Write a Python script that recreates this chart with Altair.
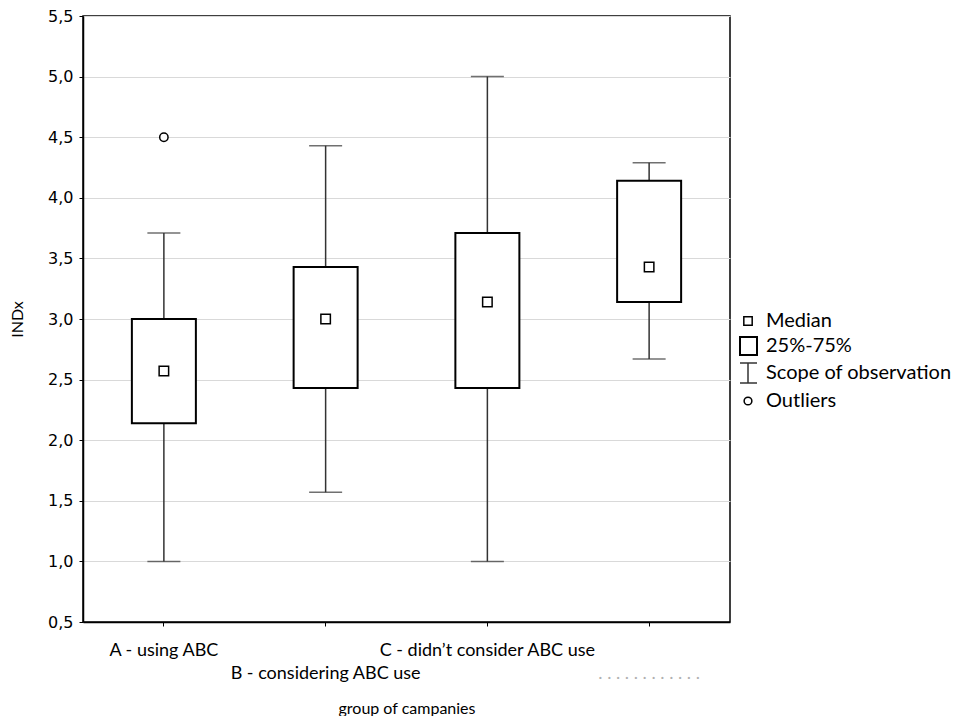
import altair as alt
import pandas as pd

# ---- data ----
group_labels = ["A - using ABC", "B - considering ABC use",
                "C - didn\u2019t consider ABC use", ". . . . . . . . . . . ."]
whisker_low = [1.0, 1.57, 1.0, 2.67]
q1 = [2.14, 2.43, 2.43, 3.14]
median = [2.57, 3.0, 3.14, 3.43]
q3 = [3.0, 3.43, 3.71, 4.14]
whisker_high = [3.71, 4.43, 5.0, 4.29]
outlier_group = ["A - using ABC"]
outlier_value = [4.5]
y_ticks = [0.5, 1.0, 1.5, 2.0, 2.5, 3.0, 3.5, 4.0, 4.5, 5.0, 5.5]
legend_labels = ["Median", "25%-75%", "Scope of observation", "Outliers"]
x_title = "group of campanies"
y_title = "INDx"

df = pd.DataFrame({"group": group_labels, "lo": whisker_low, "q1": q1,
                   "med": median, "q3": q3, "hi": whisker_high})
df_out = pd.DataFrame({"group": outlier_group, "val": outlier_value})
leg = pd.DataFrame({"label": legend_labels})

W, H = 647, 606
FONT = "Lato"

second_row = "indexof(['" + group_labels[1] + "', '" + group_labels[3] + "'], datum.value) >= 0"

x_enc = alt.X("group:N", sort=group_labels,
              scale=alt.Scale(paddingInner=0, paddingOuter=0),
              axis=alt.Axis(title=x_title, labelAngle=0, labelFont=FONT, labelFontSize=18,
                            labelLimit=400,
                            labelColor={"condition": {"test": "datum.value == '" + group_labels[3] + "'",
                                                      "value": "#b0b0b0"}, "value": "black"},
                            labelExpr=second_row + " ? ['', datum.label] : datum.label",
                            labelLineHeight=23, labelPadding=24, labelBaseline="middle",
                            tickSize=4, tickColor="black", titleFont=FONT, titleFontSize=16,
                            titleFontWeight="normal", titlePadding=18, grid=False))
y_scale = alt.Scale(domain=[0.5, 5.5], nice=False, zero=False)
y_axis = alt.Axis(title=y_title, values=y_ticks,
                  labelExpr="replace(format(datum.value, '.1f'), '.', ',')",
                  labelFont="DejaVu Sans", labelFontSize=16, labelPadding=6, tickSize=4,
                  tickColor="black", gridColor="#d9d9d9", titleFont=FONT, titleFontSize=16,
                  titleFontWeight="normal", titlePadding=22)

base = alt.Chart(df)
whisk = base.mark_rule(color="#333333", strokeWidth=1.5).encode(
    x=x_enc, y=alt.Y("lo:Q", scale=y_scale, axis=y_axis), y2="hi:Q")
box = base.mark_bar(size=64, fill="white", stroke="black", strokeWidth=2).encode(
    x=alt.X("group:N", sort=group_labels), y="q1:Q", y2="q3:Q")
cap_hi = base.mark_tick(size=33, thickness=1.5, color="#333333").encode(
    x=alt.X("group:N", sort=group_labels), y="hi:Q")
cap_lo = base.mark_tick(size=33, thickness=1.5, color="#333333").encode(
    x=alt.X("group:N", sort=group_labels), y="lo:Q")
med = base.mark_point(shape="square", size=90, fill="white", filled=True, stroke="black",
                      strokeWidth=1.5, opacity=1).encode(
    x=alt.X("group:N", sort=group_labels), y="med:Q")
out = alt.Chart(df_out).mark_point(shape="circle", size=70, fill="white", filled=True,
                                   stroke="black", strokeWidth=1.5, opacity=1).encode(
    x=alt.X("group:N", sort=group_labels), y="val:Q")

# ---- custom legend on the right ----
lx, tx = 665, 683
ly = [305, 330, 357, 385]
leg_med = alt.Chart(leg.iloc[[0]]).mark_point(shape="square", size=70, filled=True, fill="white",
                                              stroke="black", strokeWidth=1.5, opacity=1).encode(
    x=alt.value(lx), y=alt.value(ly[0]))
leg_box = alt.Chart(leg.iloc[[1]]).mark_rect(fill="white", stroke="black", strokeWidth=2).encode(
    x=alt.value(lx - 8), x2=alt.value(lx + 9), y=alt.value(ly[1] - 9), y2=alt.value(ly[1] + 9))
leg_rule = alt.Chart(leg.iloc[[2]]).mark_rule(color="#333333", strokeWidth=1.5).encode(
    x=alt.value(lx), y=alt.value(ly[2] - 10), y2=alt.value(ly[2] + 10))
leg_cap1 = alt.Chart(leg.iloc[[2]]).mark_rule(color="#333333", strokeWidth=1.5).encode(
    x=alt.value(lx - 8), x2=alt.value(lx + 9), y=alt.value(ly[2] - 10))
leg_cap2 = alt.Chart(leg.iloc[[2]]).mark_rule(color="#333333", strokeWidth=1.5).encode(
    x=alt.value(lx - 8), x2=alt.value(lx + 9), y=alt.value(ly[2] + 10))
leg_out = alt.Chart(leg.iloc[[3]]).mark_point(shape="circle", size=60, filled=True, fill="white",
                                              stroke="black", strokeWidth=1.5, opacity=1).encode(
    x=alt.value(lx), y=alt.value(ly[3]))
leg_text = [alt.Chart(leg.iloc[[i]]).mark_text(align="left", baseline="middle", font=FONT,
                                               fontSize=20, color="black").encode(
    x=alt.value(tx), y=alt.value(ly[i]), text="label:N") for i in range(4)]

chart = alt.layer(whisk, box, cap_hi, cap_lo, med, out,
                  leg_med, leg_box, leg_rule, leg_cap1, leg_cap2, leg_out, *leg_text).properties(
    width=W, height=H, background="white",
    padding={"left": 1, "top": 0, "right": 2, "bottom": 0}
).configure_view(stroke="black", strokeWidth=1.5).configure_axis(domainColor="black", domainWidth=1.5)

chart.save("out.html", embed_options={"renderer": "svg", "actions": False})
